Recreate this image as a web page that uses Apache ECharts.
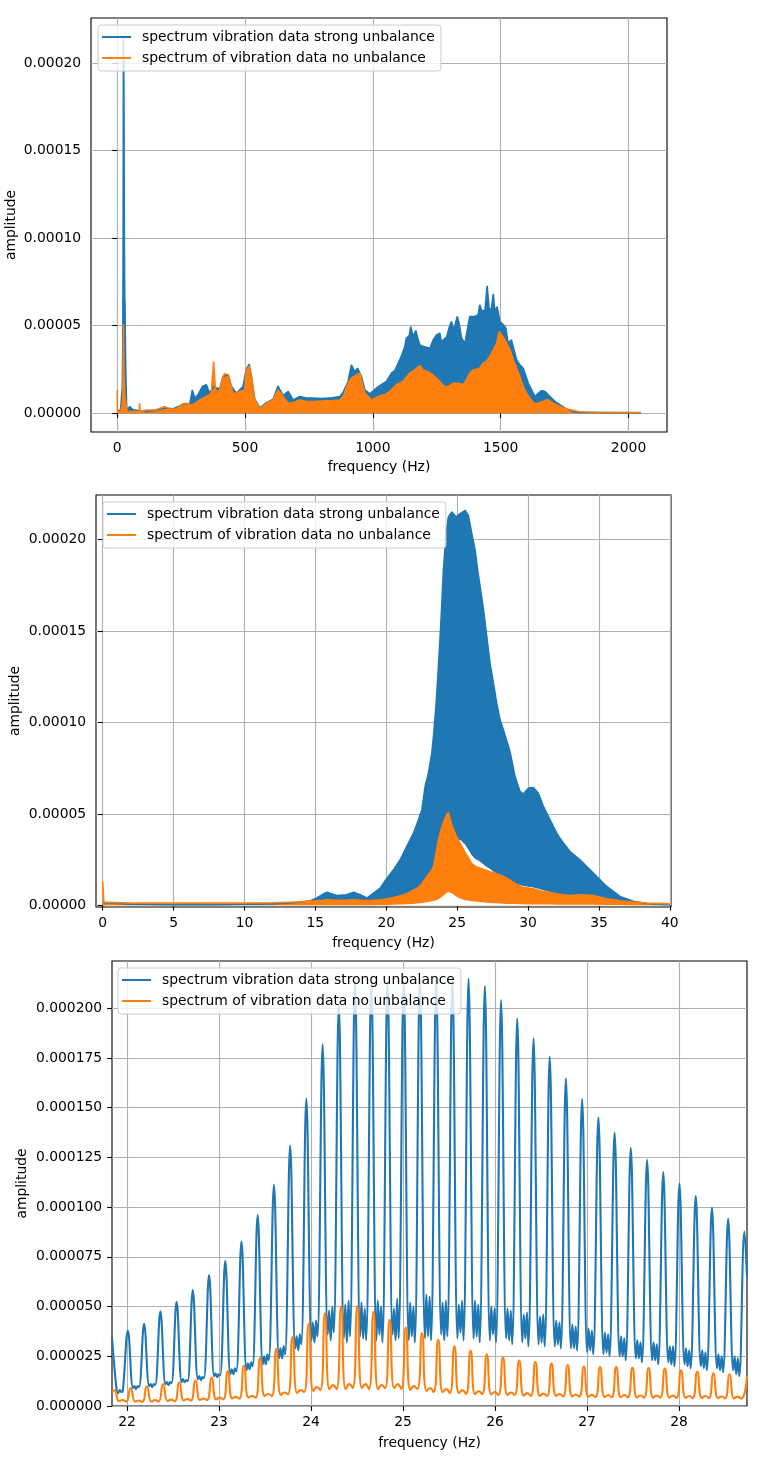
<!DOCTYPE html>
<html><head><meta charset="utf-8">
<script src="https://cdn.jsdelivr.net/npm/echarts/dist/echarts.min.js"></script>
<style>html,body{margin:0;padding:0;background:#fff}#c{width:778px;height:1464px}</style>
</head><body><div id="c"></div>
<script>
// amplitudes below are in units of 1e-5
const UNIT = 1e-5;
const seriesNames = ['spectrum vibration data strong unbalance', 'spectrum of vibration data no unbalance'];
const xAxisTitle = 'frequency (Hz)';
const yAxisTitle = 'amplitude';

// ---------- subplot 1 : full spectrum (upper envelope of the dense spectrum) ----------
const xTicks1 = [0, 500, 1000, 1500, 2000];
const yTicks1 = [0, 0.00005, 0.0001, 0.00015, 0.0002];
const blue1 = [[0,0.2],[10,0.1],[14,0.3],[16,0.7],[18,0.6],[20,1.45],[22,4.0],[23.5,11.0],[24.2,19.0],[24.7,21.5],[25.6,21.6],[26.5,18.0],[27.5,12.0],[28.5,8.7],[29.5,6.2],[30.4,6.45],[31.5,4.7],[33,3.0],[35,1.5],[37,0.35],[40,0.2],[49,0.38],[62,0.19],[114,0.1],[150,0.15],[186,0.3],[220,0.25],[257,0.5],[284,0.55],[294,1.33],[303,0.86],[316,1.05],[323,0.95],[333,1.52],[349,1.62],[362,1.14],[377,1.5],[401,1.4],[414,2.1],[434,2.2],[446,1.55],[466,1.14],[492,1.52],[505,2.5],[516,2.8],[525,2.1],[538,0.8],[558,0.3],[584,0.6],[610,0.8],[629,1.55],[649,1.0],[669,1.24],[688,0.76],[714,0.95],[740,0.86],[766,0.86],[800,0.84],[840,0.88],[871,0.95],[884,1.2],[903,1.81],[916,2.76],[929,2.38],[940,2.57],[955,2.1],[969,1.33],[988,1.1],[1021,1.52],[1053,1.81],[1073,2.29],[1086,2.44],[1105,3.05],[1112,3.28],[1125,3.81],[1131,4.29],[1142,4.42],[1148,4.95],[1157,4.38],[1168,4.72],[1177,4.19],[1184,3.9],[1197,3.81],[1223,3.71],[1236,4.19],[1249,4.47],[1262,4.57],[1268,4.09],[1288,4.34],[1298,4.86],[1307,5.24],[1317,4.76],[1330,5.52],[1337,5.14],[1347,4.29],[1360,4.0],[1373,5.05],[1379,5.52],[1399,5.52],[1412,5.62],[1418,6.19],[1425,5.9],[1438,5.81],[1447,7.27],[1455,5.9],[1464,6.0],[1471,6.82],[1477,5.81],[1486,6.09],[1497,5.24],[1510,5.05],[1520,4.86],[1529,4.0],[1542,4.19],[1549,4.29],[1562,3.05],[1575,2.76],[1588,2.57],[1608,1.71],[1621,1.33],[1634,0.95],[1647,1.14],[1660,1.29],[1673,1.24],[1686,1.05],[1699,0.86],[1712,0.67],[1731,0.48],[1758,0.23],[1784,0.09],[1810,0.04],[1900,0.03],[2048,0.02]];
const orange1 = [[0,1.33],[1,0.1],[10,0.08],[18,0.3],[20,0.4],[22,0.9],[23.5,3.0],[24.4,5.09],[25.5,3.0],[27,1.95],[30,0.96],[33,0.58],[36,0.3],[40,0.1],[86,0.1],[88,0.57],[90,0.1],[114,0.18],[150,0.18],[186,0.38],[205,0.23],[231,0.25],[257,0.53],[270,0.57],[284,0.48],[297,0.48],[323,0.76],[349,0.95],[368,1.14],[377,2.95],[383,1.6],[388,1.14],[401,1.33],[414,2.09],[420,2.25],[434,2.2],[440,1.9],[446,1.52],[453,1.1],[479,1.24],[499,1.33],[505,2.47],[516,2.7],[525,2.09],[538,0.76],[558,0.25],[584,0.55],[610,0.76],[629,1.33],[649,0.95],[669,0.57],[688,0.6],[714,0.76],[740,0.67],[766,0.67],[800,0.7],[840,0.72],[871,0.75],[884,0.95],[903,1.71],[916,2.0],[936,2.19],[949,2.28],[960,1.6],[969,1.14],[995,0.76],[1021,0.95],[1053,1.1],[1073,1.33],[1092,1.62],[1118,1.81],[1144,2.29],[1164,2.47],[1184,2.71],[1197,2.47],[1223,2.32],[1242,2.09],[1262,1.81],[1281,1.52],[1294,1.52],[1314,1.71],[1334,1.71],[1353,1.62],[1366,1.9],[1379,2.29],[1392,2.47],[1405,2.51],[1418,2.57],[1431,2.86],[1444,2.95],[1457,3.24],[1471,3.62],[1484,4.0],[1494,4.67],[1499,4.76],[1510,4.34],[1523,4.0],[1536,3.62],[1549,3.05],[1562,2.57],[1575,2.09],[1588,1.52],[1601,1.14],[1614,0.86],[1627,0.61],[1640,0.53],[1653,0.61],[1673,0.72],[1686,0.76],[1705,0.57],[1731,0.38],[1758,0.23],[1810,0.08],[1900,0.04],[2048,0.03]];

// ---------- subplot 2 : 0-40 Hz (lower / upper envelopes of the dense spectrum) ----------
const xTicks2 = [0, 5, 10, 15, 20, 25, 30, 35, 40];
const yTicks2 = [0, 0.00005, 0.0001, 0.00015, 0.0002];
const freq2 = [0,0.08,0.3,2,5,8,10,12,13.7,14.64,15.1,15.58,15.8,16.5,17.2,17.69,18.16,18.63,19.1,19.57,20.0,20.51,20.98,21.45,21.92,22.27,22.51,22.74,22.97,23.21,23.33,23.52,23.68,23.85,24.03,24.22,24.38,24.62,24.93,25.21,25.56,25.79,26.03,26.27,26.43,26.62,26.86,27.09,27.32,27.56,27.79,28.03,28.26,28.5,28.73,29.08,29.44,29.67,30.02,30.37,30.73,31.08,31.55,32.02,32.49,32.96,33.66,34.6,35.55,36.48,37.42,38.36,40.0];
const blueHi2 = [0.2,0.18,0.15,0.08,0.06,0.06,0.08,0.1,0.18,0.27,0.42,0.65,0.73,0.56,0.6,0.74,0.6,0.42,0.69,0.96,1.45,1.96,2.51,3.24,3.96,4.69,5.23,6.51,7.23,8.33,9.23,11.05,13.05,15.41,18.32,20.32,21.23,21.5,21.23,21.41,21.59,21.32,20.32,19.41,18.41,17.41,16.14,14.68,13.23,12.14,11.05,10.14,9.6,9.0,8.4,7.05,6.23,6.1,6.42,6.45,6.14,5.42,4.69,3.96,3.42,2.96,2.5,1.78,1.05,0.51,0.24,0.12,0.05];
const blueLo2 = [0,0.02,0.04,0.04,0.04,0.04,0.05,0.06,0.1,0.12,0.14,0.15,0.16,0.16,0.16,0.17,0.16,0.15,0.16,0.18,0.2,0.25,0.3,0.38,0.5,0.6,0.7,0.85,1.0,1.2,1.4,1.8,2.2,2.5,2.8,3.0,3.15,3.3,3.5,3.6,3.35,3.05,2.75,2.55,2.5,2.4,2.25,2.12,2.0,1.85,1.7,1.6,1.5,1.4,1.3,1.2,1.12,1.08,1.04,1.0,0.92,0.84,0.75,0.64,0.58,0.52,0.5,0.45,0.3,0.2,0.15,0.1,0.05];
const orangeHi2 = [1.33,0.2,0.18,0.15,0.14,0.14,0.15,0.16,0.2,0.25,0.27,0.3,0.32,0.3,0.3,0.32,0.3,0.28,0.3,0.33,0.36,0.45,0.55,0.65,0.85,1.0,1.2,1.45,1.7,1.95,2.14,2.9,3.6,4.1,4.55,4.9,5.09,4.4,3.8,3.4,2.9,2.62,2.3,2.15,2.1,2.05,1.98,1.92,1.86,1.8,1.74,1.68,1.6,1.5,1.4,1.22,1.05,1.0,0.96,0.92,0.85,0.78,0.72,0.65,0.6,0.56,0.6,0.55,0.38,0.27,0.2,0.15,0.1];
const orangeLo2 = [0,0.02,0.02,0.02,0.02,0.02,0.02,0.02,0.03,0.03,0.03,0.03,0.03,0.03,0.03,0.03,0.03,0.03,0.03,0.04,0.04,0.05,0.06,0.08,0.1,0.13,0.15,0.18,0.2,0.24,0.26,0.3,0.36,0.45,0.55,0.68,0.75,0.68,0.5,0.4,0.3,0.27,0.25,0.23,0.22,0.2,0.18,0.16,0.15,0.14,0.13,0.12,0.11,0.1,0.1,0.09,0.08,0.08,0.07,0.07,0.06,0.06,0.06,0.05,0.05,0.05,0.05,0.05,0.04,0.04,0.03,0.03,0.03];

// ---------- subplot 3 : 21.8-28.7 Hz zoom ----------
const xTicks3 = [22, 23, 24, 25, 26, 27, 28];
const yTicks3 = [0, 0.000025, 0.00005, 0.000075, 0.0001, 0.000125, 0.00015, 0.000175, 0.0002];
const blue3 = [
[21.837,3.45],[21.889,0.72],[21.904,0.65],[21.922,0.80],[21.940,0.70],[21.955,0.78],
[22.010,3.78],[22.065,0.90],[22.080,1.00],[22.098,0.85],[22.116,1.00],[22.131,0.95],
[22.186,4.14],[22.241,1.00],[22.256,1.10],[22.274,0.95],[22.292,1.10],[22.307,1.05],
[22.363,4.76],[22.418,1.10],[22.433,1.20],[22.451,1.05],[22.469,1.20],[22.484,1.15],
[22.539,5.24],[22.594,1.20],[22.609,1.35],[22.627,1.20],[22.645,1.30],[22.660,1.25],
[22.715,5.83],[22.770,1.35],[22.785,1.50],[22.803,1.30],[22.821,1.45],[22.836,1.40],
[22.892,6.58],[22.947,1.50],[22.962,1.65],[22.980,1.45],[22.998,1.60],[23.013,1.55],
[23.068,7.29],[23.123,1.60],[23.138,1.85],[23.156,1.60],[23.174,1.90],[23.189,1.75],
[23.244,8.27],[23.299,1.80],[23.314,2.15],[23.332,1.85],[23.350,2.20],[23.365,2.00],
[23.420,9.60],[23.475,2.10],[23.490,2.50],[23.508,2.10],[23.526,2.60],[23.541,2.30],
[23.597,11.12],[23.652,2.40],[23.667,2.90],[23.685,2.40],[23.703,3.00],[23.718,2.60],
[23.773,13.10],[23.828,2.90],[23.843,3.50],[23.861,2.80],[23.879,3.60],[23.894,3.10],
[23.949,15.46],[24.004,3.30],[24.019,4.20],[24.037,3.20],[24.055,4.30],[24.070,3.50],
[24.126,18.19],[24.181,3.60],[24.196,4.80],[24.214,3.30],[24.232,5.00],[24.247,3.70],
[24.302,20.20],[24.357,3.40],[24.372,5.10],[24.390,3.20],[24.408,5.30],[24.423,3.50],
[24.478,21.34],[24.533,3.50],[24.548,5.20],[24.566,3.40],[24.584,4.90],[24.599,3.30],
[24.655,21.26],[24.710,3.30],[24.725,5.30],[24.743,3.60],[24.761,5.00],[24.776,3.20],
[24.831,21.34],[24.886,3.60],[24.901,4.90],[24.919,3.30],[24.937,5.40],[24.952,3.40],
[25.007,21.34],[25.062,3.30],[25.077,5.20],[25.095,3.50],[25.113,5.00],[25.128,3.20],
[25.183,21.42],[25.238,3.40],[25.253,5.60],[25.271,3.50],[25.289,5.50],[25.304,3.30],
[25.360,21.42],[25.415,3.60],[25.430,5.20],[25.448,3.30],[25.466,5.30],[25.481,3.50],
[25.536,21.40],[25.591,3.40],[25.606,5.10],[25.624,3.70],[25.642,5.30],[25.657,3.30],
[25.712,21.50],[25.767,3.40],[25.782,5.30],[25.800,3.50],[25.818,5.10],[25.833,3.20],
[25.889,21.12],[25.944,3.30],[25.959,5.00],[25.977,3.60],[25.995,4.90],[26.010,3.20],
[26.065,20.42],[26.120,3.40],[26.135,4.90],[26.153,3.30],[26.171,4.80],[26.186,3.10],
[26.241,19.50],[26.296,3.20],[26.311,4.60],[26.329,3.40],[26.347,4.70],[26.362,3.00],
[26.418,18.49],[26.473,3.10],[26.488,4.50],[26.506,3.20],[26.524,4.60],[26.539,3.00],
[26.594,17.57],[26.649,3.00],[26.664,4.30],[26.682,3.10],[26.700,4.20],[26.715,2.90],
[26.770,16.48],[26.825,2.90],[26.840,4.10],[26.858,2.90],[26.876,4.00],[26.891,2.80],
[26.946,15.44],[27.001,2.70],[27.016,3.90],[27.034,2.80],[27.052,3.80],[27.067,2.60],
[27.123,14.52],[27.178,2.60],[27.193,3.70],[27.211,2.70],[27.229,3.60],[27.244,2.50],
[27.299,13.75],[27.354,2.50],[27.369,3.50],[27.387,2.50],[27.405,3.40],[27.420,2.30],
[27.475,12.98],[27.530,2.40],[27.545,3.30],[27.563,2.40],[27.581,3.20],[27.596,2.20],
[27.652,12.38],[27.707,2.30],[27.722,3.20],[27.740,2.30],[27.758,3.10],[27.773,2.10],
[27.828,11.76],[27.883,2.20],[27.898,3.00],[27.916,2.10],[27.934,3.00],[27.949,2.00],
[28.004,11.19],[28.059,2.10],[28.074,2.90],[28.092,2.00],[28.110,2.80],[28.125,1.90],
[28.181,10.57],[28.236,2.00],[28.251,2.80],[28.269,1.90],[28.287,2.70],[28.302,1.80],
[28.357,9.98],[28.412,1.90],[28.427,2.60],[28.445,1.80],[28.463,2.50],[28.478,1.70],
[28.533,9.41],[28.588,1.80],[28.603,2.50],[28.621,1.60],[28.639,2.40],[28.654,1.50],
[28.710,8.77],[28.738,6.50]];
const orange3 = [
[21.837,0.65],
[21.864,0.80],[21.914,0.25],[21.952,0.30],[21.990,0.22],
[22.040,0.90],[22.090,0.22],[22.128,0.28],[22.166,0.20],
[22.216,0.99],[22.266,0.22],[22.304,0.30],[22.342,0.22],
[22.392,1.10],[22.442,0.25],[22.480,0.32],[22.518,0.24],
[22.568,1.19],[22.618,0.28],[22.656,0.35],[22.694,0.27],
[22.744,1.29],[22.794,0.30],[22.832,0.38],[22.870,0.30],
[22.920,1.44],[22.970,0.33],[23.008,0.42],[23.046,0.33],
[23.095,1.74],[23.145,0.38],[23.183,0.46],[23.221,0.37],
[23.271,2.02],[23.321,0.42],[23.359,0.50],[23.397,0.42],
[23.447,2.41],[23.497,0.50],[23.535,0.60],[23.573,0.50],
[23.623,2.86],[23.673,0.55],[23.711,0.68],[23.749,0.58],
[23.799,3.47],[23.849,0.65],[23.887,0.80],[23.925,0.70],
[23.975,4.14],[24.025,0.75],[24.063,0.95],[24.101,0.80],
[24.151,4.67],[24.201,0.85],[24.239,1.05],[24.277,0.85],
[24.327,5.00],[24.377,0.85],[24.415,1.10],[24.453,0.90],
[24.503,5.03],[24.553,0.90],[24.591,1.10],[24.629,0.85],
[24.679,4.75],[24.729,0.85],[24.767,1.05],[24.805,0.90],
[24.854,4.34],[24.904,0.90],[24.942,1.10],[24.980,0.85],
[25.030,3.95],[25.080,0.80],[25.118,1.00],[25.156,0.85],
[25.206,3.67],[25.256,0.75],[25.294,0.90],[25.332,0.70],
[25.382,3.33],[25.432,0.70],[25.470,0.85],[25.508,0.65],
[25.558,3.00],[25.608,0.65],[25.646,0.80],[25.684,0.60],
[25.734,2.79],[25.784,0.60],[25.822,0.75],[25.860,0.60],
[25.910,2.59],[25.960,0.58],[25.998,0.70],[26.036,0.55],
[26.086,2.44],[26.136,0.55],[26.174,0.68],[26.212,0.55],
[26.262,2.29],[26.312,0.52],[26.350,0.65],[26.388,0.50],
[26.438,2.21],[26.488,0.50],[26.526,0.62],[26.564,0.50],
[26.613,2.13],[26.663,0.50],[26.701,0.60],[26.739,0.48],
[26.789,2.06],[26.839,0.48],[26.877,0.58],[26.915,0.47],
[26.965,1.99],[27.015,0.46],[27.053,0.56],[27.091,0.45],
[27.141,1.96],[27.191,0.45],[27.229,0.55],[27.267,0.44],
[27.317,1.96],[27.367,0.44],[27.405,0.55],[27.443,0.43],
[27.493,1.92],[27.543,0.43],[27.581,0.53],[27.619,0.42],
[27.669,1.91],[27.719,0.42],[27.757,0.52],[27.795,0.42],
[27.845,1.88],[27.895,0.42],[27.933,0.52],[27.971,0.41],
[28.021,1.79],[28.071,0.41],[28.109,0.50],[28.147,0.40],
[28.197,1.72],[28.247,0.40],[28.285,0.50],[28.323,0.40],
[28.373,1.66],[28.423,0.40],[28.461,0.48],[28.499,0.38],
[28.548,1.61],[28.598,0.38],[28.636,0.47],[28.674,0.37],
[28.738,1.50]];

// ---------- build chart ----------
const BLUE = '#1f77b4', ORANGE = '#ff7f0e';
const FONT = 'DejaVu Sans', FS = 13.9;
const scale = arr => arr.map(p => [p[0], p[1] * UNIT]);
const pairs = (xs, ys) => xs.map((x, i) => [x, ys[i] * UNIT]);

function xAxis(gi, min, max, ticks, gap, opts) {
  return Object.assign({
    type: 'value', gridIndex: gi, min: min, max: max,
    name: xAxisTitle, nameLocation: 'middle', nameGap: gap,
    nameTextStyle: {fontFamily: FONT, fontSize: FS, color: '#000'},
    axisLine: {show: false},
    axisTick: {show: true, length: 4.9, lineStyle: {color: '#000', width: 1.1}, customValues: ticks},
    axisLabel: {fontFamily: FONT, fontSize: FS, color: '#000', margin: 9.8, customValues: ticks,
      formatter: v => String(Math.round(v * 1000) / 1000)},
    splitLine: {show: true, lineStyle: {color: '#b0b0b0', width: 1.1}}
  }, opts || {});
}
function yAxis(gi, min, max, ticks, digits, gap, opts) {
  return Object.assign({
    type: 'value', gridIndex: gi, min: min, max: max,
    name: yAxisTitle, nameLocation: 'middle', nameGap: gap, nameRotate: 90, nameMoveOverlap: false,
    nameTextStyle: {fontFamily: FONT, fontSize: FS, color: '#000'},
    axisLine: {show: false},
    axisTick: {show: true, length: 4.9, lineStyle: {color: '#000', width: 1.1}, customValues: ticks},
    axisLabel: {fontFamily: FONT, fontSize: FS, color: '#000', margin: 9.8, customValues: ticks,
      formatter: v => Math.abs(v).toFixed(digits)},
    splitLine: {show: true, lineStyle: {color: '#b0b0b0', width: 1.1}}
  }, opts || {});
}
function legend(left, top) {
  return {
    orient: 'vertical', left: left, top: top,
    data: seriesNames.map(n => ({name: n, icon: 'rect'})),
    itemWidth: 29, itemHeight: 2, itemGap: 5,
    padding: [4, 6, 5, 4],
    textStyle: {fontFamily: FONT, fontSize: FS, color: '#000', lineHeight: 16, padding: [0, 0, 0, 6]},
    backgroundColor: 'rgba(255,255,255,0.8)', borderColor: '#cccccc', borderWidth: 1, borderRadius: 3,
    selectedMode: false
  };
}
const gridStyle = {show: true, borderColor: '#000', borderWidth: 1.1, backgroundColor: 'transparent', containLabel: false, outerBoundsMode: 'none'};

function area(name, xi, data, color, lw) {
  return {name: name, type: 'line', xAxisIndex: xi, yAxisIndex: xi, data: data, symbol: 'none',
    color: color, lineStyle: lw ? {color: color, width: lw} : {width: 0, opacity: 0},
    areaStyle: {color: color, opacity: 1}, silent: true};
}

const series = [];
// subplot 1
series.push(area(seriesNames[0], 0, scale(blue1), BLUE, 1.6));
series.push(area(seriesNames[1], 0, scale(orange1), ORANGE, 1.6));
// subplot 2: each spectrum is a band between its lower and upper envelope
series.push(area(seriesNames[0], 1, pairs(freq2, blueHi2), BLUE, 1.6));
series.push(area('_blueLower2', 1, pairs(freq2, blueLo2), '#ffffff', 0));
series.push(area(seriesNames[1], 1, pairs(freq2, orangeHi2), ORANGE, 1.6));
series.push(area('_orangeLower2', 1, pairs(freq2, orangeLo2), '#ffffff', 0));
// subplot 3
series.push({name: seriesNames[0], type: 'line', xAxisIndex: 2, yAxisIndex: 2, data: scale(blue3),
  symbol: 'none', smooth: 0.4, color: BLUE, lineStyle: {color: BLUE, width: 2.1}, silent: true});
series.push({name: seriesNames[1], type: 'line', xAxisIndex: 2, yAxisIndex: 2, data: scale(orange3),
  symbol: 'none', smooth: 0.55, color: ORANGE, lineStyle: {color: ORANGE, width: 2.1}, silent: true});

const option = {
  animation: false,
  backgroundColor: '#fff',
  textStyle: {fontFamily: FONT},
  grid: [
    Object.assign({left: 91, top: 18, width: 576, height: 414}, gridStyle),
    Object.assign({left: 96, top: 495, width: 575, height: 412}, gridStyle),
    Object.assign({left: 112, top: 961, width: 635, height: 445}, gridStyle)
  ],
  xAxis: [
    xAxis(0, -102.4, 2150.4, xTicks1, 28),
    xAxis(1, -0.47, 40.08, xTicks2, 29, {splitNumber: 8}),
    xAxis(2, 21.837, 28.738, xTicks3, 30)
  ],
  yAxis: [
    yAxis(0, -1.075e-5, 22.575e-5, yTicks1, 5, 73),
    yAxis(1, -0.07e-5, 22.43e-5, yTicks2, 5, 74),
    yAxis(2, 0, 22.38e-5, yTicks3, 6, 83, {interval: 0.000025})
  ],
  legend: [legend(98, 25), legend(103, 502), legend(118, 968)],
  series: series
};
const chart = echarts.init(document.getElementById('c'), null, {renderer: 'canvas'});
chart.setOption(option);
</script></body></html>
